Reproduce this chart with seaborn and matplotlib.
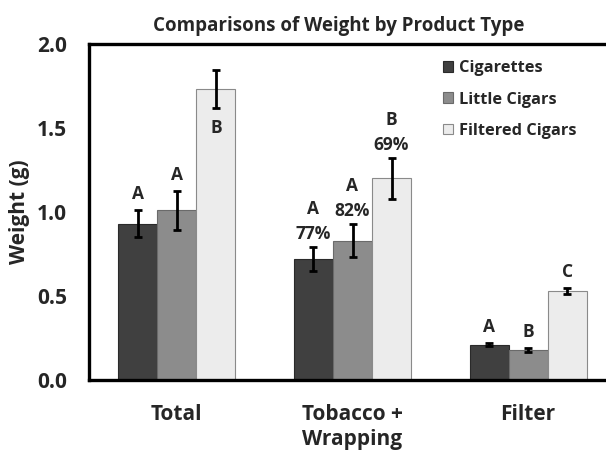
import pandas as pd
import seaborn as sns
import matplotlib.pyplot as plt
from matplotlib.patches import Patch

# values (grams)
parts = ["Total", "Tobacco +\nWrapping", "Filter"]
products = ["Cigarettes", "Little Cigars", "Filtered Cigars"]
cigarettes = [0.93, 0.72, 0.21]
little_cigars = [1.01, 0.83, 0.18]
filtered_cigars = [1.73, 1.20, 0.53]
cigarettes_err = [0.08, 0.07, 0.01]
little_cigars_err = [0.115, 0.10, 0.012]
filtered_cigars_err = [0.113, 0.12, 0.02]
cigarettes_letters = ["A", "A", "A"]
little_cigars_letters = ["A", "A", "B"]
filtered_cigars_letters = ["B", "B", "C"]
tobacco_share = ["77%", "82%", "69%"]  # shown over the "Tobacco + Wrapping" group

colors = ["#404040", "#8c8c8c", "#ececec"]
edges = ["#2a2a2a", "#6a6a6a", "#8a8a8a"]

df = pd.DataFrame({
    "part": parts * 3,
    "product": [p for p in products for _ in parts],
    "weight": cigarettes + little_cigars + filtered_cigars,
})
errs = [cigarettes_err, little_cigars_err, filtered_cigars_err]
letters = [cigarettes_letters, little_cigars_letters, filtered_cigars_letters]

sns.set_style("white")
plt.rcParams["font.family"] = ["Open Sans", "DejaVu Sans"]
plt.rcParams["font.weight"] = "bold"

fig = plt.figure(figsize=(6.06, 4.54), dpi=100)
ax = fig.add_axes([89 / 606, 74 / 454, 527 / 606, 336 / 454])

sns.barplot(data=df, x="part", y="weight", hue="product", order=parts,
            hue_order=products, palette=colors, width=0.667, errorbar=None,
            legend=False, ax=ax)

px = 0.72  # points per pixel at dpi 100
fs_ann = 12.5
bar_groups = list(ax.containers)
for h, cont in enumerate(bar_groups):
    for i, bar in enumerate(cont):
        bar.set_edgecolor(edges[h])
        bar.set_linewidth(0.8)
        xc = bar.get_x() + bar.get_width() / 2
        top = bar.get_height()
        ax.errorbar(xc, top, yerr=errs[h][i], color="black", lw=2,
                    capsize=3, capthick=2, zorder=5)
        if i == 0 and h == 2:
            # the "B" sits inside the tall bar, under the error bar
            ax.annotate(letters[h][i], (xc, top - errs[h][i]), xytext=(0, -20 * px),
                        textcoords="offset points", ha="center", va="center",
                        fontsize=fs_ann, fontweight="bold")
            continue
        y0 = top + errs[h][i]
        if i == 1:
            ax.annotate(tobacco_share[h], (xc, y0), xytext=(0, 13 * px),
                        textcoords="offset points", ha="center", va="center",
                        fontsize=fs_ann, fontweight="bold")
            off = 38
        else:
            off = 16
        ax.annotate(letters[h][i], (xc, y0), xytext=(0, off * px),
                    textcoords="offset points", ha="center", va="center",
                    fontsize=fs_ann, fontweight="bold")

ax.set_ylim(0, 2.0)
ax.set_xlim(-0.5, 2.5)
ax.set_yticks([0, 0.5, 1.0, 1.5, 2.0])
ax.set_yticklabels(["0.0", "0.5", "1.0", "1.5", "2.0"])
ax.tick_params(axis="y", direction="in", length=5, width=2, pad=16, labelsize=15)
ax.tick_params(axis="x", length=0, pad=17, labelsize=15)
for lab in ax.get_xticklabels():
    lab.set_linespacing(1.3)
ax.set_xlabel("")
ax.set_ylabel("Weight (g)", fontsize=15, fontweight="bold", labelpad=5)
for side in ["left", "bottom", "top"]:
    ax.spines[side].set_linewidth(2.4)
    ax.spines[side].set_color("black")
ax.spines["right"].set_visible(False)

handles = [Patch(facecolor=c, edgecolor=e, lw=0.8) for c, e in zip(colors, edges)]
ax.legend(handles, products, loc="upper left", bbox_to_anchor=(0.643, 0.995),
          frameon=False, handlelength=0.62, handleheight=0.62,
          handletextpad=0.35, labelspacing=0.92, prop={"weight": "bold", "size": 11.8})

fig.text(339 / 606, 1 - 26 / 454, "Comparisons of Weight by Product Type",
         ha="center", va="center", fontsize=13.5, fontweight="bold")

fig.savefig("out.png", dpi=100)
